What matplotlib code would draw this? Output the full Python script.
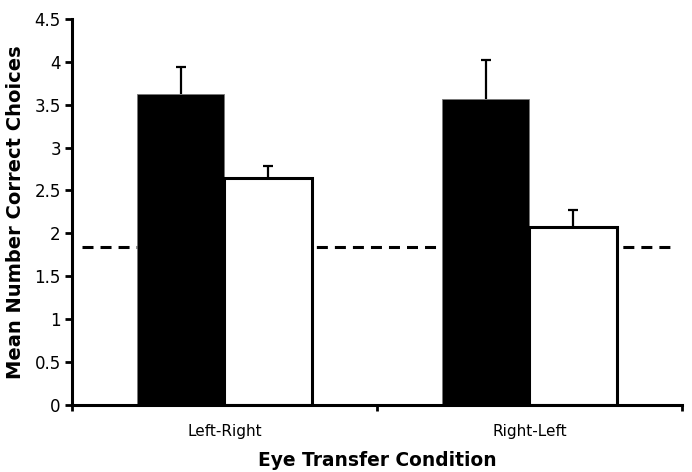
import matplotlib
matplotlib.use("Agg")
import matplotlib.pyplot as plt
import numpy as np

# Data
conditions = ["Left-Right", "Right-Left"]
filled_means = [3.63, 3.57]
filled_err = [0.31, 0.45]
open_means = [2.65, 2.08]
open_err = [0.14, 0.19]
chance_level = 1.84

fig = plt.figure(figsize=(6.92, 4.72), dpi=100)
ax = fig.add_axes([0.104, 0.142, 0.8815, 0.818])

x = np.arange(len(conditions))
w = 0.286
cap = 0.017

ax.bar(x - w / 2, filled_means, w, color="black", edgecolor="#777777",
       linewidth=0.6, zorder=2)
ax.bar(x + w / 2, open_means, w, color="white", edgecolor="black",
       linewidth=2.2, zorder=2)


def plus_errorbars(xs, means, errs):
    xs = np.asarray(xs)
    means = np.asarray(means)
    tops = means + np.asarray(errs)
    ax.vlines(xs, means, tops, color="black", linewidth=1.6, zorder=3)
    ax.hlines(tops, xs - cap, xs + cap, color="black", linewidth=1.6, zorder=3)


plus_errorbars(x - w / 2, filled_means, filled_err)
plus_errorbars(x + w / 2, open_means, open_err)

# chance line
ax.plot([-0.467, 1.477], [chance_level, chance_level], color="black",
        linewidth=2.2, linestyle=(0, (3.6, 2.3)), zorder=1)

ax.set_xlim(-0.5, 1.5)
ax.set_ylim(0, 4.5)
ax.set_yticks(np.arange(0, 4.51, 0.5))
ax.set_yticklabels(["0", "0.5", "1", "1.5", "2", "2.5", "3", "3.5", "4", "4.5"])
ax.set_xticks(x)
ax.set_xticklabels(conditions)
ax.set_xticks([-0.5, 0.5, 1.5], minor=True)

ax.tick_params(axis="x", which="major", length=0, pad=14, labelsize=11)
ax.tick_params(axis="x", which="minor", length=4, width=2, direction="out")
ax.tick_params(axis="y", length=5, width=2, direction="out", labelsize=12, pad=3)

for s in ["top", "right"]:
    ax.spines[s].set_visible(False)
for s in ["left", "bottom"]:
    ax.spines[s].set_linewidth(2.2)

ax.set_ylabel("Mean Number Correct Choices", fontsize=14, fontweight="bold",
              labelpad=7)
ax.set_xlabel("Eye Transfer Condition", fontsize=13.4, fontweight="bold",
              labelpad=8)

fig.savefig("out.png", dpi=100)
